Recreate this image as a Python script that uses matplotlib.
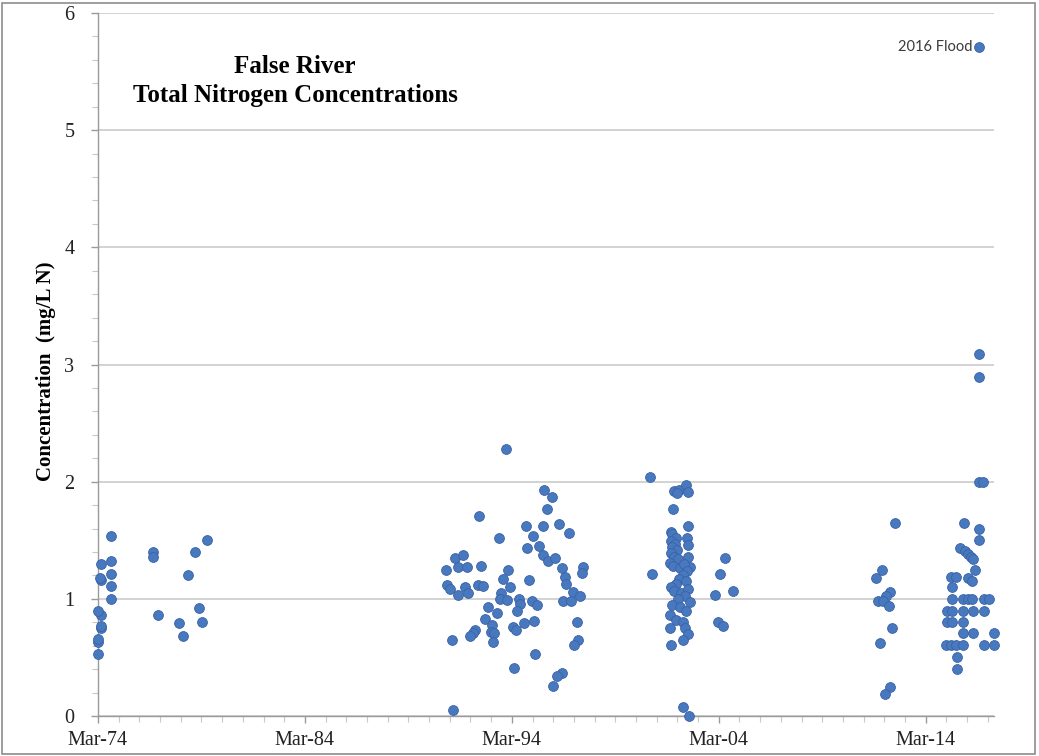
import numpy as np
import matplotlib
matplotlib.use('Agg')
import matplotlib.pyplot as plt
from matplotlib.patches import Rectangle

# sample dates as decimal years, total N in mg/L N
yr_70s = [1974.16, 1974.16, 1974.16, 1974.31, 1974.31, 1974.31, 1974.16, 1974.31, 1974.28, 1974.31,
          1974.80, 1974.80, 1974.80, 1974.80, 1974.80,
          1976.83, 1976.83, 1977.07, 1978.08, 1978.28, 1978.52, 1978.86, 1979.05, 1979.19, 1979.44]
tn_70s = [0.53, 0.63, 0.66, 0.75, 0.77, 0.86, 0.90, 1.16, 1.18, 1.30,
          1.54, 1.32, 1.21, 1.11, 1.00,
          1.40, 1.36, 0.86, 0.79, 0.68, 1.20, 1.40, 0.92, 0.80, 1.50]

yr_90s = [1993.88, 1995.73, 1996.12, 1995.85, 1992.58, 1994.85, 1995.68, 1996.45, 1996.94, 1995.20,
          1993.54, 1994.91, 1995.49, 1995.65, 1995.92, 1996.25, 1996.57, 1997.61, 1997.54, 1991.42,
          1991.82, 1990.98, 1991.58, 1991.98, 1992.67, 1993.99, 1996.73, 1996.78, 1993.75, 1995.01,
          1991.04, 1991.17, 1991.90, 1992.06, 1991.58, 1992.54, 1992.78, 1994.07, 1993.62, 1993.59,
          1993.94, 1997.10, 1997.46, 1996.65, 1997.05, 1994.52, 1994.56, 1995.12, 1995.39, 1993.03,
          1993.43, 1994.43, 1992.87, 1993.19, 1994.75, 1995.25, 1997.30, 1994.20, 1994.36, 1992.38,
          1992.27, 1992.14, 1993.14, 1993.30, 1991.26, 1993.24, 1997.37, 1997.17, 1995.28, 1994.28,
          1996.57, 1996.33, 1996.17, 1991.33]
tn_90s = [2.28, 1.93, 1.87, 1.77, 1.71, 1.62, 1.62, 1.64, 1.56, 1.54,
          1.52, 1.43, 1.45, 1.37, 1.32, 1.35, 1.26, 1.27, 1.22, 1.35,
          1.37, 1.25, 1.27, 1.27, 1.28, 1.25, 1.19, 1.13, 1.17, 1.16,
          1.12, 1.08, 1.10, 1.05, 1.03, 1.12, 1.11, 1.10, 1.05, 1.00,
          0.99, 1.06, 1.02, 0.98, 0.98, 1.00, 0.96, 0.98, 0.95, 0.93,
          0.88, 0.90, 0.83, 0.78, 0.79, 0.81, 0.80, 0.76, 0.73, 0.73,
          0.71, 0.68, 0.72, 0.71, 0.65, 0.63, 0.65, 0.61, 0.53, 0.41,
          0.37, 0.34, 0.26, 0.05]

yr_00s = [2000.84, 2002.00, 2002.25, 2002.58, 2002.69, 2002.16, 2001.96, 2002.69, 2001.88, 2002.61,
          2002.69, 2002.69, 2002.80, 2000.92, 2004.46, 2004.22, 2003.98, 2004.86, 2004.14, 2004.35,
          2002.42, 2002.74,
          2001.90, 2002.09, 2001.85, 2002.04, 2001.90, 2002.14, 2001.85, 2002.00, 2002.19, 2001.80,
          2001.95, 2002.28, 2002.48, 2002.62, 2002.43, 2002.24, 2002.58, 2002.09, 2001.85, 2002.00,
          2002.33, 2002.67, 2002.53, 2002.19, 2002.77, 2001.90, 2002.28, 2002.58, 2001.80, 2002.09,
          2002.43, 2002.53, 2002.67, 2001.80, 2002.43, 2001.85]
tn_00s = [2.04, 1.92, 1.93, 1.97, 1.91, 1.90, 1.77, 1.62, 1.57, 1.52,
          1.46, 1.36, 1.27, 1.21, 1.35, 1.21, 1.03, 1.07, 0.80, 0.77,
          0.08, 0.00,
          1.55, 1.52, 1.49, 1.47, 1.44, 1.42, 1.39, 1.36, 1.34, 1.31,
          1.28, 1.26, 1.30, 1.24, 1.20, 1.17, 1.15, 1.13, 1.10, 1.07,
          1.05, 1.08, 1.02, 1.00, 0.97, 0.95, 0.93, 0.90, 0.86, 0.82,
          0.80, 0.75, 0.70, 0.75, 0.65, 0.61]

yr_10s = [2016.74, 2016.74, 2016.74, 2016.92, 2012.67, 2012.08, 2011.79, 2012.43, 2012.27, 2011.87,
          2012.11, 2012.40, 2012.56, 2011.98, 2012.46, 2012.22,
          2016.01, 2016.74, 2016.74, 2015.81, 2016.05, 2016.20, 2016.34, 2016.45, 2016.53,
          2015.41, 2015.65, 2016.21, 2016.42, 2015.46,
          2015.46, 2015.97, 2016.21, 2016.42, 2016.97, 2017.23,
          2015.20, 2015.46, 2015.97, 2016.45, 2016.97,
          2015.20, 2015.46, 2015.97,
          2015.97, 2016.45, 2017.47,
          2015.14, 2015.41, 2015.65, 2015.97, 2016.97, 2017.47,
          2015.68, 2015.68]
tn_10s = [3.09, 2.89, 2.00, 2.00, 1.65, 1.25, 1.18, 1.06, 1.02, 0.98,
          0.98, 0.94, 0.75, 0.62, 0.25, 0.19,
          1.65, 1.60, 1.50, 1.43, 1.41, 1.38, 1.36, 1.34, 1.25,
          1.19, 1.19, 1.18, 1.15, 1.10,
          1.00, 1.00, 1.00, 1.00, 1.00, 1.00,
          0.90, 0.90, 0.90, 0.90, 0.90,
          0.80, 0.80, 0.80,
          0.71, 0.71, 0.71,
          0.61, 0.61, 0.61, 0.61, 0.61, 0.61,
          0.50, 0.40]

flood_yr = [2016.74]
flood_tn = [5.71]

tick_years = [1974, 1984, 1994, 2004, 2014]
tick_labels = ['Mar-74', 'Mar-84', 'Mar-94', 'Mar-04', 'Mar-14']

title_text = 'False River\nTotal Nitrogen Concentrations'
y_label = 'Concentration  (mg/L N)'

# figure setup
fig_w, fig_h = 1039, 756
dpi = 100
point_color = '#4878be'
edge_color = '#3a62a6'
grid_color = '#c6c6c6'
axis_color = '#9a9a9a'
serif = ['Liberation Serif', 'DejaVu Serif']

fig = plt.figure(figsize=(fig_w/dpi, fig_h/dpi), dpi=dpi)
ax = fig.add_axes([98/fig_w, 1 - 716/fig_h, (994-98)/fig_w, (716-13)/fig_h])

# chart area border
fig.patches.append(Rectangle((2/fig_w, 2/fig_h), 1033/fig_w, 751/fig_h, transform=fig.transFigure,
                             fill=False, edgecolor='#8c8c8c', linewidth=1.2))

all_yr = np.concatenate([yr_70s, yr_90s, yr_00s, yr_10s, flood_yr])
all_tn = np.concatenate([tn_70s, tn_90s, tn_00s, tn_10s, flood_tn])
ax.scatter(all_yr, all_tn, s=50, color=point_color, edgecolors=edge_color, linewidths=0.6,
           zorder=3, clip_on=False)

ax.text(flood_yr[0] - 0.3, flood_tn[0], '2016 Flood', ha='right', va='center',
        fontsize=10.5, family=['Lato', 'DejaVu Sans'], color='#3a3a3a')

x_start = 1974 + 2/12
ax.set_xlim(x_start, 2017.47)
ax.set_ylim(0, 6)

ax.set_xticks([y + 2/12 for y in tick_years])
ax.set_xticklabels(tick_labels)
ax.set_xticks([x_start + i for i in range(44)], minor=True)
ax.set_yticks(np.arange(0, 7, 1))
ax.set_yticks(np.arange(0, 6.01, 0.2), minor=True)

ax.yaxis.grid(True, which='major', color=grid_color, linewidth=1.1)
ax.set_axisbelow(True)
for side in ['top', 'right']:
  ax.spines[side].set_visible(False)
for side in ['left', 'bottom']:
  ax.spines[side].set_color(axis_color)
  ax.spines[side].set_linewidth(1.0)

ax.tick_params(axis='both', which='major', color=axis_color, length=5, width=1.0, direction='out',
               labelsize=14.5, labelcolor='#222222')
ax.tick_params(axis='both', which='minor', color='#c8c8c8', length=4, width=0.8, direction='out')
ax.tick_params(axis='x', which='major', pad=6)
ax.tick_params(axis='y', which='major', pad=12)
for lab in ax.get_xticklabels() + ax.get_yticklabels():
  lab.set_family(serif)

ax.set_ylabel(y_label, fontsize=15, fontweight='bold', family=serif)
ax.yaxis.set_label_coords((56-98)/896, 0.49)

ax.text(0.22, 0.94, title_text, transform=ax.transAxes, ha='center', va='top', fontsize=18,
        fontweight='bold', family=serif, linespacing=1.3)

fig.savefig('out.png', dpi=dpi, facecolor='white')
